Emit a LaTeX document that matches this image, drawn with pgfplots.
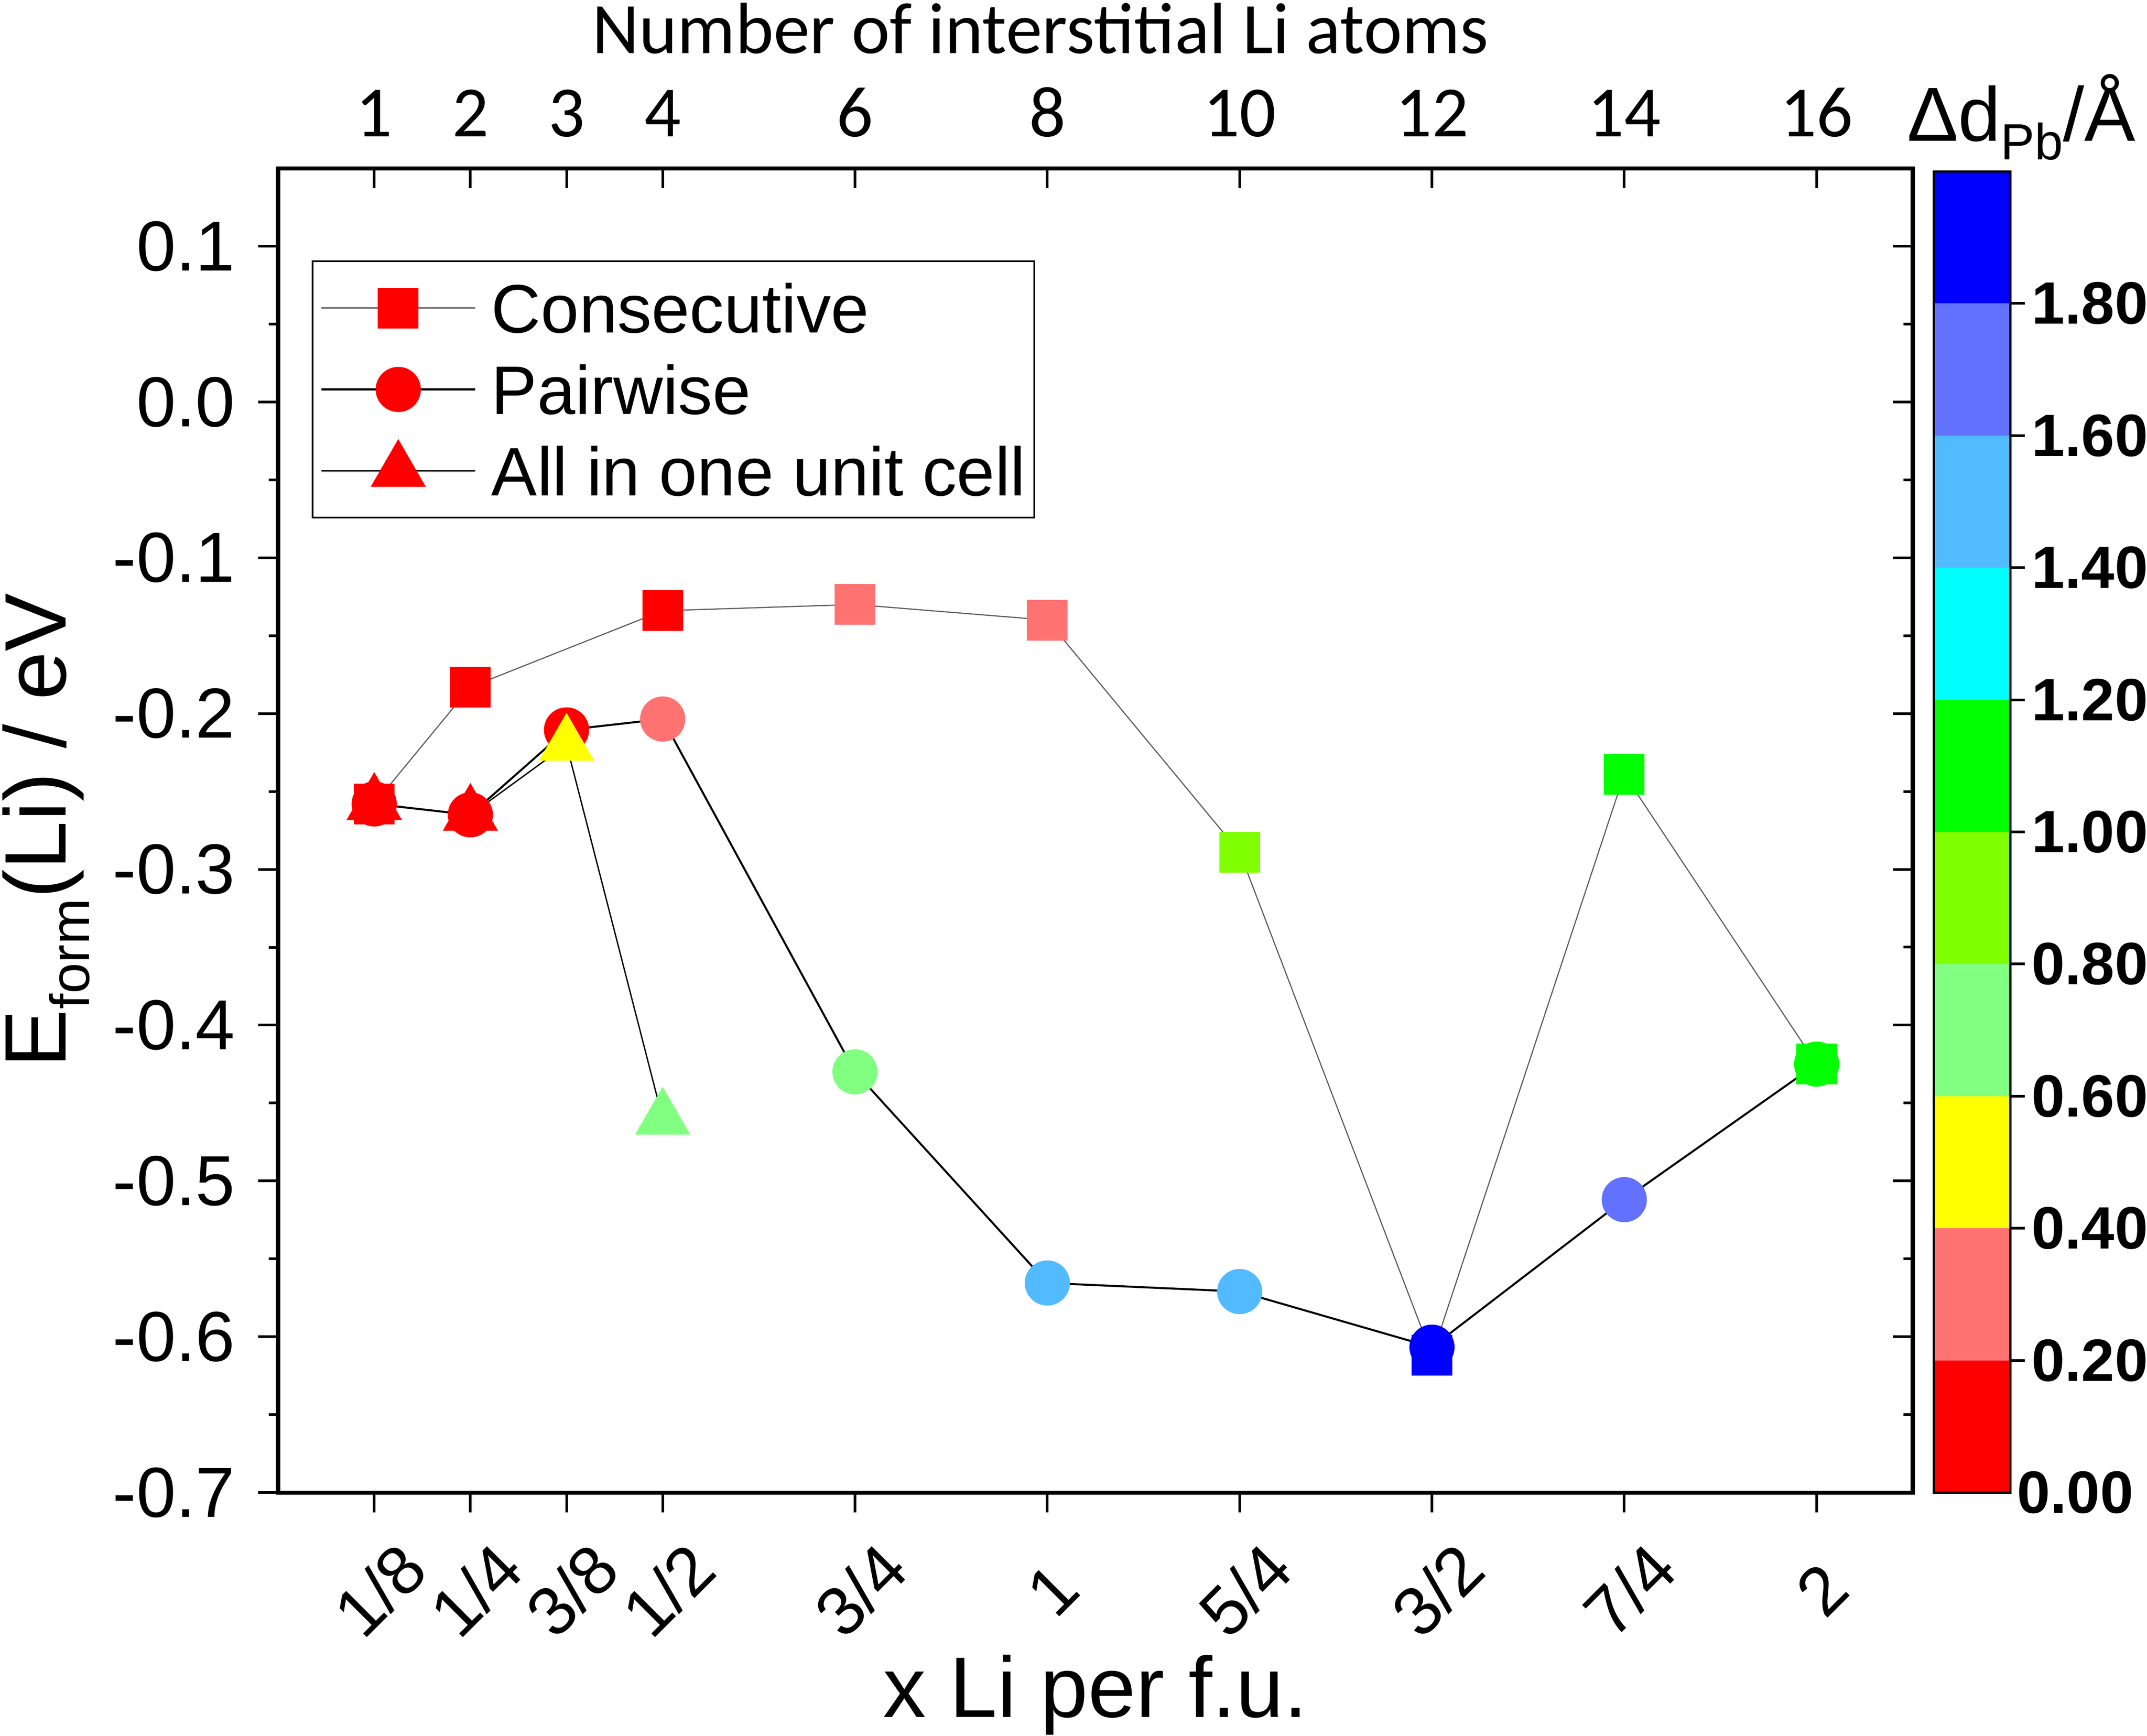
\documentclass[border=0pt]{standalone}
\usepackage{fontspec}
\setmainfont{Liberation Sans}
\newfontfamily\carlito{Carlito}
\usepackage{pgfplots}
\pgfplotsset{compat=1.18}
\usepackage{pgfplotstable}

\definecolor{cA}{HTML}{FF0000}
\definecolor{cB}{HTML}{FF7272}
\definecolor{cC}{HTML}{FFFF00}
\definecolor{cD}{HTML}{80FF80}
\definecolor{cE}{HTML}{80FF00}
\definecolor{cF}{HTML}{00FF00}
\definecolor{cG}{HTML}{00FFFF}
\definecolor{cH}{HTML}{52BBFF}
\definecolor{cI}{HTML}{6272FF}
\definecolor{cJ}{HTML}{0000FF}
\definecolor{lgray}{HTML}{5A5A5A}

\pgfplotstableread{
x y c
1 -0.258 A
2 -0.183 A
4 -0.134 A
6 -0.130 B
8 -0.140 B
10 -0.289 E
12 -0.612 J
14 -0.239 F
16 -0.425 F
}\consec

\pgfplotstableread{
x y c
1 -0.258 A
2 -0.265 A
3 -0.2105 A
4 -0.2035 B
6 -0.430 D
8 -0.5655 H
10 -0.571 H
12 -0.6067 J
14 -0.512 I
16 -0.425 F
}\pairw

\pgfplotstableread{
x y c
1 -0.258 A
2 -0.265 A
3 -0.220 C
4 -0.460 D
}\allone

\pgfplotsset{
  myclasses/.style={
    scatter/classes={
      A={draw=cA,fill=cA}, B={draw=cB,fill=cB}, C={draw=cC,fill=cC},
      D={draw=cD,fill=cD}, E={draw=cE,fill=cE}, F={draw=cF,fill=cF},
      G={draw=cG,fill=cG}, H={draw=cH,fill=cH}, I={draw=cI,fill=cI},
      J={draw=cJ,fill=cJ}}},
  frame/.style={
    scale only axis, width=369.2pt, height=299.1pt,
    at={(0pt,0pt)}, anchor=south west,
    xmin=0, xmax=17, ymin=-0.7, ymax=0.15,
    xtick={1,2,3,4,6,8,10,12,14,16},
    ytick={-0.7,-0.6,-0.5,-0.4,-0.3,-0.2,-0.1,0,0.1},
    minor y tick num=1,
    major tick length=4.5pt, minor tick length=2.1pt,
    axis line style={line width=0.9pt},
    tick style={line width=0.6pt, black},
  }
}

\begin{document}
\begin{tikzpicture}
\useasboundingbox (-62.8pt,-54.9pt) rectangle (422.1pt,337.1pt);

% top and right ticks
\begin{axis}[frame,
  xtick pos=right, xticklabel pos=right,
  ytick pos=right, yticklabels={},
  tick align=inside,
  xticklabels={1,2,3,4,6,8,10,12,14,16},
  xticklabel style={font=\carlito\fontsize{16.3}{16.3}\selectfont, anchor=base, yshift=7.2pt},
  xlabel={Number of interstitial Li atoms},
  every axis x label/.style={at={(axis description cs:0.4664,1)}, yshift=26pt, anchor=base,
    font=\carlito\fontsize{16.4}{16.4}\selectfont},
]
\end{axis}

% main axis
\begin{axis}[frame,
  xtick pos=left, ytick pos=left,
  tick align=outside,
  xticklabels={1/8,1/4,3/8,1/2,3/4,1,5/4,3/2,7/4,2},
  yticklabels={-0.7,-0.6,-0.5,-0.4,-0.3,-0.2,-0.1,0.0,0.1},
  xticklabel style={font=\fontsize{15.5}{15.5}\selectfont, yshift=-17.5pt, xshift=1.2pt, rotate=45, anchor=center},
  yticklabel style={font=\fontsize{16}{16}\selectfont, anchor=east, xshift=-1.7pt},
  xlabel={x Li per f.u.},
  ylabel={E\raisebox{-5.3pt}{\fontsize{12.5}{12.5}\selectfont form}(Li) / eV},
  every axis x label/.style={at={(axis description cs:0.5,0)}, yshift=-50.7pt, anchor=base,
    font=\fontsize{19.4}{19.4}\selectfont},
  every axis y label/.style={at={(axis description cs:0,0.5)}, xshift=-47.9pt, rotate=90, anchor=base,
    font=\fontsize{19.7}{19.7}\selectfont},
  legend style={at={(axis description cs:0,1)}, anchor=north west, xshift=7.6pt, yshift=-20.8pt,
    draw=black, line width=0.4pt, inner xsep=2pt, inner ysep=5pt,
    row sep=7.3pt, column sep=3.7pt,
    font=\fontsize{15.5}{15.5}\selectfont,
    cells={anchor=base west},
    nodes={inner sep=0pt, text height=11.1pt, text depth=0pt}},
  legend image code/.code={%
    \draw[#1, overlay] (0pt,5.55pt) -- (34.7pt,5.55pt);
    \draw[#1, overlay] plot coordinates {(17.35pt,5.55pt)};
    \path[draw=none, fill=none] (0pt,0pt) rectangle (34.7pt,11.1pt);
  },
]
% connecting lines
\addplot[forget plot, lgray, line width=0.25pt, mark=none] table[x=x,y=y]{\consec};
\addplot[forget plot, black, line width=0.45pt, mark=none] table[x=x,y=y]{\pairw};
\addplot[forget plot, black, line width=0.3pt, mark=none] table[x=x,y=y]{\allone};
% coloured markers
\addplot[forget plot, scatter, only marks, mark=square*, mark size=4.4pt, myclasses,
  point meta=explicit symbolic] table[x=x,y=y,meta=c]{\consec};
\addplot[forget plot, scatter, only marks, mark=*, mark size=4.9pt, myclasses,
  point meta=explicit symbolic] table[x=x,y=y,meta=c]{\pairw};
\addplot[forget plot, scatter, only marks, mark=triangle*, mark size=6.8pt, myclasses,
  point meta=explicit symbolic] table[x=x,y=y,meta=c]{\allone};
% legend
\addlegendimage{lgray, line width=0.25pt, mark=square*, mark size=4.4pt, mark options={draw=red, fill=red, solid, line width=0.4pt}}
\addlegendentry{Consecutive}
\addlegendimage{black, line width=0.45pt, mark=*, mark size=4.9pt, mark options={draw=red, fill=red, solid, line width=0.4pt}}
\addlegendentry{Pairwise}
\addlegendimage{black, line width=0.3pt, mark=triangle*, mark size=6.8pt, mark options={draw=red, fill=red, solid, line width=0.4pt}}
\addlegendentry{All in one unit cell}
\end{axis}

% colour bar
\begin{axis}[
  scale only axis, width=17.3pt, height=298.4pt,
  at={(373.9pt,0pt)}, anchor=south west,
  xmin=0, xmax=1, ymin=0, ymax=2,
  xtick=\empty,
  ytick={0.2,0.4,0.6,0.8,1,1.2,1.4,1.6,1.8},
  yticklabels={0.20,0.40,0.60,0.80,1.00,1.20,1.40,1.60,1.80},
  extra y ticks={0}, extra y tick labels={0.00},
  extra y tick style={major tick length=0pt},
  ytick pos=right, yticklabel pos=right,
  tick align=outside, major tick length=3.3pt,
  axis line style={line width=0.5pt},
  tick style={line width=0.6pt, black},
  yticklabel style={font=\bfseries\fontsize{13.5}{13.5}\selectfont, anchor=west, xshift=-2pt},
  title={Δd\raisebox{-4.2pt}{\fontsize{11.5}{11.5}\selectfont Pb}/Å},
  every axis title/.style={at={(axis description cs:0,1)}, anchor=base west, inner sep=0pt,
    xshift=-6.2pt, yshift=6.9pt, font=\fontsize{17.3}{17.3}\selectfont},
  axis on top,
]
\addplot[fill=cJ, draw=none] coordinates {(0,2) (1,2)} \closedcycle;
\addplot[fill=cI, draw=none] coordinates {(0,1.8) (1,1.8)} \closedcycle;
\addplot[fill=cH, draw=none] coordinates {(0,1.6) (1,1.6)} \closedcycle;
\addplot[fill=cG, draw=none] coordinates {(0,1.4) (1,1.4)} \closedcycle;
\addplot[fill=cF, draw=none] coordinates {(0,1.2) (1,1.2)} \closedcycle;
\addplot[fill=cE, draw=none] coordinates {(0,1.0) (1,1.0)} \closedcycle;
\addplot[fill=cD, draw=none] coordinates {(0,0.8) (1,0.8)} \closedcycle;
\addplot[fill=cC, draw=none] coordinates {(0,0.6) (1,0.6)} \closedcycle;
\addplot[fill=cB, draw=none] coordinates {(0,0.4) (1,0.4)} \closedcycle;
\addplot[fill=cA, draw=none] coordinates {(0,0.2) (1,0.2)} \closedcycle;
\end{axis}
\end{tikzpicture}
\end{document}
